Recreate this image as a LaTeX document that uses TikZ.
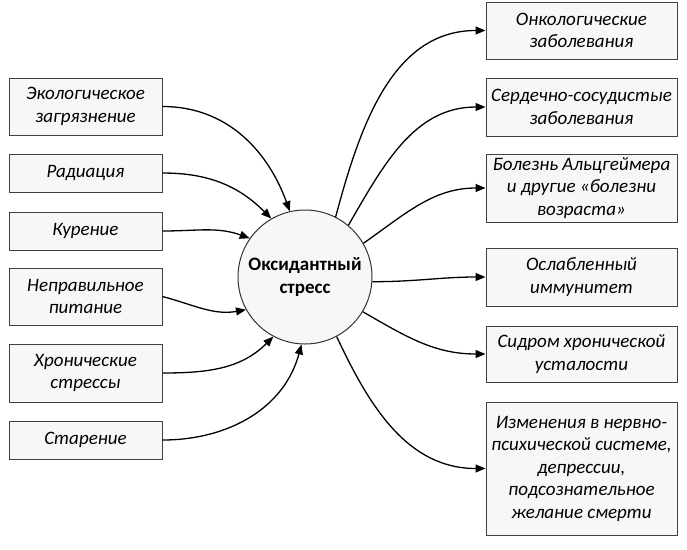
\documentclass[tikz,border=0pt]{standalone}
\usepackage{fontspec}
\setmainfont{Carlito}
\usetikzlibrary{arrows.meta}
\tikzset{
 cause/.style={draw=black!75,fill=black!3,line width=1pt,minimum width=153pt,
  align=center,font=\fontsize{19}{22.5}\selectfont\itshape,inner sep=1pt},
 effect/.style={cause,minimum width=191pt},
 core/.style={circle,draw=black!80,fill=black!3,line width=1pt,minimum size=134pt,
  align=center,font=\fontsize{19}{23}\selectfont\bfseries},
 link/.style={-{Triangle[length=10pt,width=8pt]},line width=1.3pt}
}
\begin{document}
\begin{tikzpicture}[x=1pt,y=1pt]
 \useasboundingbox (0,0) rectangle (687,-549);
 % centre
 \node[core] (ox) at (305,-277) {Оксидантный\\стресс};
 % causes
 \node[cause,minimum height=57pt] (eco) at (85.5,-106.5) {Экологическое\\загрязнение};
 \node[cause,minimum height=38pt] (rad) at (85.5,-173) {Радиация};
 \node[cause,minimum height=38pt] (smoke) at (85.5,-231) {Курение};
 \node[cause,minimum height=57pt] (food) at (85.5,-296.5) {Неправильное\\питание};
 \node[cause,minimum height=58pt] (chron) at (85.5,-373) {Хронические\\стрессы};
 \node[cause,minimum height=38pt] (age) at (85.5,-440) {Старение};
 % effects
 \node[effect,minimum height=57pt] (onc) at (581.5,-30.5) {Онкологические\\заболевания};
 \node[effect,minimum height=58pt] (card) at (581.5,-107) {Сердечно-сосудистые\\заболевания};
 \node[effect,minimum height=68pt] (alz) at (581.5,-188) {Болезнь Альцгеймера\\и другие «болезни\\возраста»};
 \node[effect,minimum height=58pt] (imm) at (581.5,-277) {Ослабленный\\иммунитет};
 \node[effect,minimum height=56pt] (fat) at (581.5,-354) {Сидром хронической\\усталости};
 \node[effect,minimum height=133pt] (nerv) at (581.5,-468.5) {Изменения в нервно-\\психической системе,\\депрессии,\\подсознательное\\желание смерти};
 % arrows in
 \draw[link] (eco.east) to[out=0,in=110] (ox.103);
 \draw[link] (rad.east) to[out=0,in=135] (ox.120);
 \draw[link] (smoke.east) to[out=0,in=160] (ox.145);
 \draw[link] (food.east) to[out=-15,in=190] (ox.209);
 \draw[link] (chron.east) to[out=0,in=225] (ox.242);
 \draw[link] (age.east) to[out=0,in=255] (ox.267);
 % arrows out
 \draw[link] (ox.63) to[out=75,in=180] (onc.west);
 \draw[link] (ox.50) to[out=60,in=180] (card.west);
 \draw[link] (ox.30) to[out=35,in=180] (alz.west);
 \draw[link] (ox.-4) to[out=0,in=180] (imm.west);
 \draw[link] (ox.-31) to[out=-30,in=180] (fat.west);
 \draw[link] (ox.-62) to[out=-65,in=180] (nerv.west);
\end{tikzpicture}
\end{document}
